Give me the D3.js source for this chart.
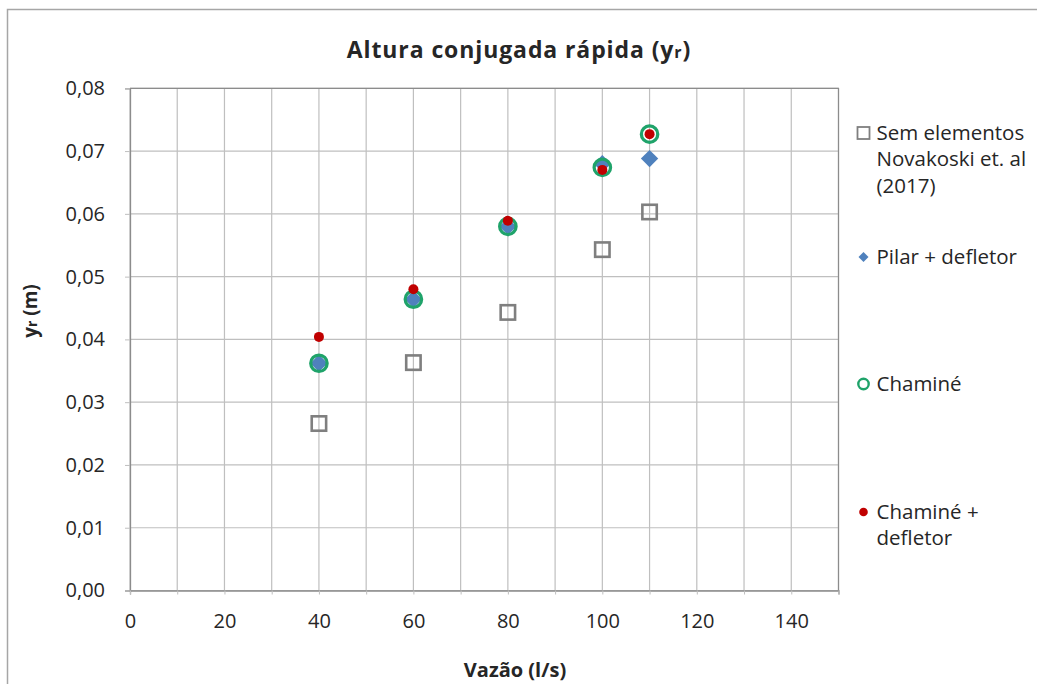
<!DOCTYPE html>
<html>
<head>
<meta charset="utf-8">
<script src="https://cdn.jsdelivr.net/npm/d3@7"></script>
<style>
  html, body { margin: 0; padding: 0; background: #fff; }
  svg { display: block; }
  text { font-family: "Open Sans", "Noto Sans", sans-serif; fill: #262626; }
</style>
</head>
<body>
<svg id="chart" width="1037" height="684"></svg>
<script>
// ---- data ----
const vazao = [40, 60, 80, 100, 110];
const semElementos = [0.0266, 0.0363, 0.0443, 0.0543, 0.0603];
const pilarDefletor = [0.0362, 0.0464, 0.0580, 0.0680, 0.0688];
const chamine = [0.0362, 0.0464, 0.0580, 0.0674, 0.0727];
const chamineDefletor = [0.0404, 0.0480, 0.0589, 0.0670, 0.0727];

const xTicks = [0, 20, 40, 60, 80, 100, 120, 140];
const xGrid = d3.range(0, 151, 10);
const yTicks = [0, 0.01, 0.02, 0.03, 0.04, 0.05, 0.06, 0.07, 0.08];

const titleText = "Altura conjugada rápida (y";
const titleSub = "r";
const xTitle = "Vazão (l/s)";
const yTitleMain = "y";
const yTitleSub = "r";
const yTitleRest = " (m)";

const legendItems = [
  { lines: ["Sem elementos", "Novakoski et. al", "(2017)"], type: "square" },
  { lines: ["Pilar + defletor"], type: "diamond" },
  { lines: ["Chaminé"], type: "circle" },
  { lines: ["Chaminé +", "defletor"], type: "dot" }
];

// ---- layout ----
const svg = d3.select("#chart");
const x = d3.scaleLinear().domain([0, 150]).range([130, 838.5]);
const y = d3.scaleLinear().domain([0, 0.08]).range([590.5, 88.3]);

const colors = { square: "#7f7f7f", diamond: "#4f81bd", circle: "#1fa36a", dot: "#c00000" };

// outer frame (only top/left visible)
svg.append("path")
  .attr("d", "M7.5,684 L7.5,9.5 L1037,9.5")
  .attr("fill", "none").attr("stroke", "#a6a6a6").attr("stroke-width", 1.5);

// gridlines
const grid = svg.append("g");
grid.selectAll("line.v").data(xGrid).join("line")
  .attr("x1", d => x(d)).attr("x2", d => x(d))
  .attr("y1", y(0.08)).attr("y2", y(0))
  .attr("stroke", "#bfbfbf").attr("stroke-width", 1.2);
grid.selectAll("line.h").data(yTicks).join("line")
  .attr("x1", x(0)).attr("x2", x(150))
  .attr("y1", d => y(d)).attr("y2", d => y(d))
  .attr("stroke", "#bfbfbf").attr("stroke-width", 1.2);

// axes
const fmtY = d => d3.format(".2f")(d).replace(".", ",");
const yAxis = svg.append("g").attr("transform", `translate(${x(0)},0)`)
  .call(d3.axisLeft(y).tickValues(yTicks).tickFormat(fmtY).tickSize(5).tickPadding(20));
const xAxis = svg.append("g").attr("transform", `translate(0,${y(0)})`)
  .call(d3.axisBottom(x).tickValues(xGrid).tickFormat(d => xTicks.includes(d) ? d : "").tickSize(4).tickPadding(19));
[yAxis, xAxis].forEach(a => {
  a.select(".domain").attr("stroke", "#8c8c8c").attr("stroke-width", 1.3);
  a.selectAll(".tick line").attr("stroke", "#bfbfbf");
  a.selectAll(".tick text").attr("font-size", 20).attr("font-family", "Open Sans").attr("fill", "#262626");
});

// plot border top/right
svg.append("path")
  .attr("d", `M${x(0)},${y(0.08)} L${x(150)},${y(0.08)} L${x(150)},${y(0)}`)
  .attr("fill", "none").attr("stroke", "#8c8c8c").attr("stroke-width", 1.2);

// ---- marks ----
const sq = vazao.map((v, i) => ({ x: v, y: semElementos[i] }));
const di = vazao.map((v, i) => ({ x: v, y: pilarDefletor[i] }));
const ci = vazao.map((v, i) => ({ x: v, y: chamine[i] }));
const dt = vazao.map((v, i) => ({ x: v, y: chamineDefletor[i] }));

svg.append("g").selectAll("rect").data(sq).join("rect")
  .attr("x", d => x(d.x) - 7.2).attr("y", d => y(d.y) - 7.2)
  .attr("width", 14.4).attr("height", 14.4)
  .attr("fill", "none").attr("stroke", colors.square).attr("stroke-width", 2.6);

const diamond = d3.symbol().type(d3.symbolSquare).size(150);
svg.append("g").selectAll("path").data(di).join("path")
  .attr("d", diamond)
  .attr("transform", d => `translate(${x(d.x)},${y(d.y)}) rotate(45)`)
  .attr("fill", colors.diamond);

svg.append("g").selectAll("circle").data(ci).join("circle")
  .attr("cx", d => x(d.x)).attr("cy", d => y(d.y)).attr("r", 8.2)
  .attr("fill", "none").attr("stroke", colors.circle).attr("stroke-width", 3.3);

svg.append("g").selectAll("circle").data(dt).join("circle")
  .attr("cx", d => x(d.x)).attr("cy", d => y(d.y)).attr("r", 5)
  .attr("fill", colors.dot);

// ---- title ----
const title = svg.append("text").attr("x", 519).attr("y", 58)
  .attr("text-anchor", "middle").attr("font-size", 23).attr("font-weight", "bold")
  .attr("letter-spacing", 0.9);
title.append("tspan").text(titleText);
title.append("tspan").attr("font-size", 16).text(titleSub);
title.append("tspan").text(")");

// axis titles
svg.append("text").attr("x", 515).attr("y", 677)
  .attr("text-anchor", "middle").attr("font-size", 20).attr("font-weight", "bold")
  .text(xTitle);

const yt = svg.append("text").attr("transform", "translate(37,311) rotate(-90)")
  .attr("text-anchor", "middle").attr("font-size", 19).attr("font-weight", "bold");
yt.append("tspan").text(yTitleMain);
yt.append("tspan").attr("font-size", 14).text(yTitleSub);
yt.append("tspan").text(yTitleRest);

// ---- legend ----
const legendY = [133, 257, 384, 512];
const lg = svg.append("g");
legendItems.forEach((item, i) => {
  const cy = legendY[i];
  const g = lg.append("g");
  if (item.type === "square") {
    g.append("rect").attr("x", 857.5).attr("y", cy - 6).attr("width", 12).attr("height", 12)
      .attr("fill", "none").attr("stroke", colors.square).attr("stroke-width", 1.8);
  } else if (item.type === "diamond") {
    g.append("path").attr("d", d3.symbol().type(d3.symbolSquare).size(50))
      .attr("transform", `translate(863.5,${cy}) rotate(45)`).attr("fill", colors.diamond);
  } else if (item.type === "circle") {
    g.append("circle").attr("cx", 863.5).attr("cy", cy).attr("r", 5.2)
      .attr("fill", "none").attr("stroke", colors.circle).attr("stroke-width", 2.4);
  } else {
    g.append("circle").attr("cx", 863.5).attr("cy", cy).attr("r", 4.3).attr("fill", colors.dot);
  }
  item.lines.forEach((ln, j) => {
    g.append("text").attr("x", 876.5).attr("y", cy + 6.5 + j * 26.5)
      .attr("font-size", 20.5).text(ln);
  });
});
</script>
</body>
</html>
